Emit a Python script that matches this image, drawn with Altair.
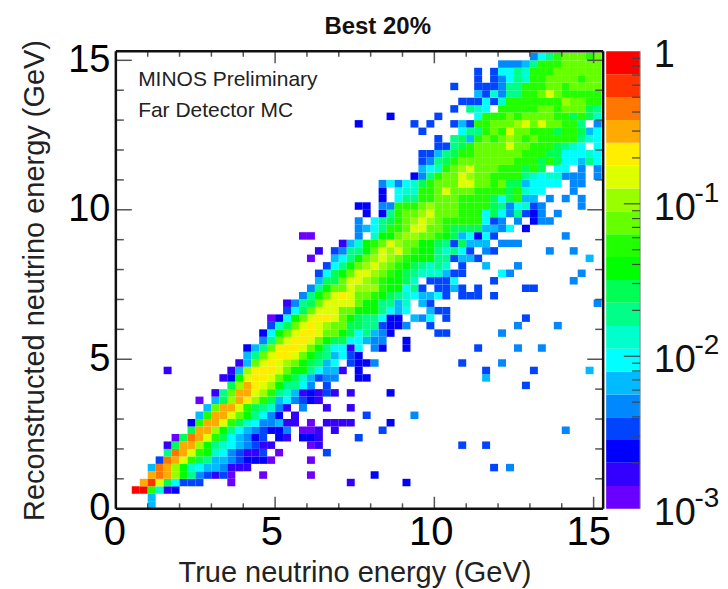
import altair as alt
import pandas as pd

# ---- 2-D histogram ----
# bin width in GeV; each row: (start column, level codes), '.' = empty bin
BIN = 0.25
AXIS_MAX = 15.3
CODES = "0123456789abcdefghij"
level_colors = ["#6A00FF", "#3300FF", "#0000FF", "#0044FF", "#0088FF", "#00BBFF", "#00FFFF",
                "#00FFCC", "#00FF88", "#00FF55", "#00FF00", "#22FF00", "#66FF00", "#99FF00",
                "#DDFF00", "#FFEE00", "#FFAA00", "#FF7700", "#FF3300", "#FF0000"]
level_edges = [0.001, 0.00141, 0.002, 0.00282, 0.00398, 0.00562, 0.00794, 0.0112, 0.0158, 0.0224,
               0.0316, 0.0447, 0.0631, 0.0891, 0.126, 0.178, 0.251, 0.355, 0.501, 0.708, 1.0]

rows = [
    [(4, "5")],
    [(4, "5")],
    [(2, "jjb712")],
    [(3, "gie96333"), (14, "0"), (29, "1"), (36, "2")],
    [(4, "ghgda843130"), (18, "0"), (24, "0"), (32, "2")],
    [(4, "5hgda76554111"), (47, "3"), (49, "4")],
    [(5, "3hgeb9855432220"), (24, "0")],
    [(6, "8hgeba7643113.0"), (26, "3")],
    [(6, "19ggda87654311"), (24, "01"), (43, "3"), (46, "3")],
    [(7, "09hgeb965423.21.221"), (30, "3")],
    [(9, "9ggda86543224.001.1"), (33, "3"), (56, "4")],
    [(9, "2bggeb97644511.0.1111"), (34, "2")],
    [(10, "5bggeca8642.1"), (31, "3"), (37, "4")],
    [(11, "5cggeb98741.4..1..1")],
    [(10, "0"), (12, "59dgfdb9564321")],
    [(12, "18cggedb87512131.1"), (34, "2")],
    [(14, "9dgfeda8864.3"), (51, "3")],
    [(13, "12aeffeca975344..22"), (46, "5")],
    [(6, "1"), (14, "15dfffecaa86551.2"), (46, "3"), (52, "3"), (59, "5")],
    [(15, "15cefedca9856.3224"), (43, "3"), (48, "4")],
    [(16, "58ceffeca985632")],
    [(16, "258cfffeca86616.42..2"), (45, "3"), (50, "4"), (53, "4")],
    [(18, "48ceffeca9966544..2")],
    [(18, "26aceffecca968542"), (40, "33"), (48, "4")],
    [(19, "379cefedcc99883224..3"), (50, "4"), (55, "4")],
    [(19, "026aceffeca988622.546.3"), (51, "3")],
    [(21, "369ceeeccaaa8656..533")],
    [(21, "1489ceeeecaa8857.53"), (60, "4")],
    [(23, "48acefeccba98765563.333.3")],
    [(24, "48accedddbaa683.3353.3"), (51, "33")],
    [(25, "599ceedcbaa97.3336"), (47, "3"), (57, "4")],
    [(25, "369aceedcba98777533"), (48, "64"), (58, "4")],
    [(26, "368acdedcba98787.3"), (46, "5"), (50, "4")],
    [(24, "0"), (27, "568acdedcbaaa883553"), (59, "5")],
    [(25, "1"), (27, "3488acedecbaa87863.43"), (54, "4"), (57, "4")],
    [(28, "157abcedccaa9839555.444")],
    [(23, "00"), (30, "4.7aacddccba956263"), (56, "4")],
    [(30, "4568bbceeccb99995546.2")],
    [(30, "4.689bcdedcbbbbb634.4.244")],
    [(31, "2.28bccdecccbbb69648324.4")],
    [(30, "22.44bbbcdcccbbbb9846734"), (58, "4")],
    [(33, "2.688bbcccbbbb969b55.4.4.4")],
    [(33, "2.677bbcecccbbbb9b766"), (57, "4")],
    [(33, "464679bccceeccbc9956666.44")],
    [(37, "248bccedccbbbb87677444.4")],
    [(38, "567bcdecccbbb9b9.66.4.4")],
    [(38, "3489bcccccccbbb9b966586")],
    [(38, "33589bbccccccbbb9966676")],
    [(40, "3389bcccceccbbb9876.6")],
    [(40, "3.895bcbcdcbcbbbbb876")],
    [(38, "3"), (43, "688bcbeccbbb9bb956")],
    [(30, "2"), (37, "3"), (39, "3"), (42, "353bbcccdececcbb8.4")],
    [(34, "2"), (40, "3"), (45, "6bbbcbccccbb9b97")],
    [(42, "3.876.bbbbbccbccc98")],
    [(43, "333637bbbbbbbdccbb")],
    [(45, "537488bbcecbbbbb")],
    [(42, "3"), (45, "333488bbbccbcccc")],
    [(45, "3.34687bbccccbcc")],
    [(45, "3.36687bbbcccccc")],
    [(48, "44458bbbccccc")],
    [(52, "468bcccbc")],
]

axis_ticks = [0, 5, 10, 15]
x_label_text = ["0", "5", "10", "15"]
x_label_pos = [-0.03, 4.9, 9.9, 14.85]
x_label_row = [-0.8, -0.8, -0.8, -0.8]
minor_ticks = [1, 2, 3, 4, 6, 7, 8, 9, 11, 12, 13, 14]
major_marks = [5, 10, 15]
bar_major = [0.01, 0.1]
bar_minor = [0.002, 0.003, 0.004, 0.005, 0.006, 0.007, 0.008, 0.009,
             0.02, 0.03, 0.04, 0.05, 0.06, 0.07, 0.08, 0.09,
             0.2, 0.3, 0.4, 0.5, 0.6, 0.7, 0.8, 0.9]
bar_labels = [(1.0, "1", ""), (0.1, "10", "-1"), (0.01, "10", "-2"), (0.001, "10", "-3")]

FONT = "Liberation Sans"
cells = []
for r, segs in enumerate(rows):
    for start, codes in segs:
        for k, ch in enumerate(codes):
            if ch != ".":
                c = start + k
                cells.append({"x": c * BIN, "x2": (c + 1) * BIN, "y": r * BIN, "y2": (r + 1) * BIN,
                              "level": CODES.index(ch)})
cells = pd.DataFrame(cells)

xs = alt.Scale(domain=[0, AXIS_MAX], nice=False, zero=False)
ys = alt.Scale(domain=[0, AXIS_MAX], nice=False, zero=False)
color = alt.Color("level:O", scale=alt.Scale(domain=list(range(20)), range=level_colors), legend=None)

heat = alt.Chart(cells).mark_rect(strokeWidth=0).encode(
    x=alt.X("x:Q", scale=xs,
            axis=alt.Axis(values=axis_ticks, ticks=False, domain=False, grid=False, labels=False,
                          title="True neutrino energy (GeV)", titleFont=FONT, titleFontSize=29,
                          titleFontWeight="normal", titleColor="#222", titlePadding=50, titleX=239)),
    x2="x2:Q",
    y=alt.Y("y:Q", scale=ys,
            axis=alt.Axis(values=axis_ticks, format="d", ticks=False, domain=False, grid=False,
                          labelFont=FONT, labelFontSize=38, labelColor="#000", labelPadding=6,
                          labelOverlap=False,
                          title="Reconstructed neutrino energy (GeV)", titleFont=FONT, titleFontSize=29,
                          titleFontWeight="normal", titleColor="#222", titlePadding=18)),
    y2="y2:Q",
    color=color,
)


def vticks(vals, lo, hi, col="#555", w=1.5):
    d = pd.DataFrame({"x": vals, "a": lo, "b": hi})
    return alt.Chart(d).mark_rule(color=col, strokeWidth=w).encode(
        x=alt.X("x:Q", scale=xs), y=alt.Y("a:Q", scale=ys), y2="b:Q")


def hticks(vals, lo, hi, col="#555", w=1.5):
    d = pd.DataFrame({"y": vals, "a": lo, "b": hi})
    return alt.Chart(d).mark_rule(color=col, strokeWidth=w).encode(
        y=alt.Y("y:Q", scale=ys), x=alt.X("a:Q", scale=xs), x2="b:Q")


notes = alt.Chart(pd.DataFrame({"x": [0.7, 0.7], "y": [14.35, 13.32],
                                "t": ["MINOS Preliminary", "Far Detector MC"]})).mark_text(
    align="left", baseline="middle", font=FONT, fontSize=21, color="#222").encode(
    x=alt.X("x:Q", scale=xs), y=alt.Y("y:Q", scale=ys), text="t:N")

head = alt.Chart(pd.DataFrame({"x": [8.22], "y": [16.12], "t": ["Best 20%"]})).mark_text(
    align="center", baseline="middle", font=FONT, fontSize=24, fontWeight="bold", color="#111").encode(
    x=alt.X("x:Q", scale=xs), y=alt.Y("y:Q", scale=ys), text="t:N")

x_labels = alt.Chart(pd.DataFrame({"x": x_label_pos, "y": x_label_row, "t": x_label_text})).mark_text(
    align="center", baseline="middle", font=FONT, fontSize=40, color="#000").encode(
    x=alt.X("x:Q", scale=xs), y=alt.Y("y:Q", scale=ys), text="t:N")

main = alt.layer(
    heat,
    vticks(major_marks, 0, 0.4), vticks(minor_ticks, 0, 0.18),
    vticks(major_marks, AXIS_MAX - 0.4, AXIS_MAX), vticks(minor_ticks, AXIS_MAX - 0.18, AXIS_MAX),
    hticks(major_marks, 0, 0.5), hticks(minor_ticks, 0, 0.25),
    hticks(major_marks, AXIS_MAX - 0.5, AXIS_MAX), hticks(minor_ticks, AXIS_MAX - 0.25, AXIS_MAX),
    vticks([0, AXIS_MAX], 0, AXIS_MAX, "#111", 2.5),
    hticks([0, AXIS_MAX], 0, AXIS_MAX, "#111", 2.5),
    notes, head, x_labels,
).properties(width=488, height=458)

# ---- colour bar ----
bx = alt.Scale(domain=[0, 1], nice=False, zero=False)
by = alt.Scale(type="log", domain=[0.001, 1], nice=False)
bar_df = pd.DataFrame({"lo": level_edges[:-1], "hi": level_edges[1:], "level": list(range(20)),
                       "a": 0, "b": 1})
bar = alt.Chart(bar_df).mark_rect(strokeWidth=0).encode(
    x=alt.X("a:Q", scale=bx, axis=None), x2="b:Q",
    y=alt.Y("lo:Q", scale=by, axis=None), y2="hi:Q",
    color=color,
)


def bar_ticks(vals, start, col="#444", w=1.2):
    d = pd.DataFrame({"y": vals, "a": start, "b": 1})
    return alt.Chart(d).mark_rule(color=col, strokeWidth=w).encode(
        y=alt.Y("y:Q", scale=by, axis=None), x=alt.X("a:Q", scale=bx, axis=None), x2="b:Q")


edge = pd.DataFrame({"x": [1], "a": [0.001], "b": [1.0]})
bar_edge = alt.Chart(edge).mark_rule(color="#888", strokeWidth=1).encode(
    x=alt.X("x:Q", scale=bx, axis=None), y=alt.Y("a:Q", scale=by, axis=None), y2="b:Q")

lab = pd.DataFrame({"y": [v[0] for v in bar_labels], "big": [v[1] for v in bar_labels],
                    "sup": [v[2] for v in bar_labels], "xb": 1.4, "xs": 2.6})
big = alt.Chart(lab).mark_text(align="left", baseline="middle", font=FONT, fontSize=38,
                               color="#111", dy=5).encode(
    x=alt.X("xb:Q", scale=bx, axis=None), y=alt.Y("y:Q", scale=by, axis=None), text="big:N")
sup = alt.Chart(lab).mark_text(align="left", baseline="middle", font=FONT, fontSize=28,
                               color="#111", dy=-10).encode(
    x=alt.X("xs:Q", scale=bx, axis=None), y=alt.Y("y:Q", scale=by, axis=None), text="sup:N")

cbar = alt.layer(bar, bar_edge, bar_ticks(bar_minor, 0.76), bar_ticks(bar_major, 0.52),
                 big, sup).properties(width=34, height=458)

chart = alt.hconcat(main, cbar, spacing=3, bounds="flush").resolve_scale(color="shared").properties(
    padding={"left": 12, "top": 6, "right": 0, "bottom": 0}
).configure_view(stroke=None)

chart.save("out.html", embed_options={"renderer": "svg", "actions": False})
